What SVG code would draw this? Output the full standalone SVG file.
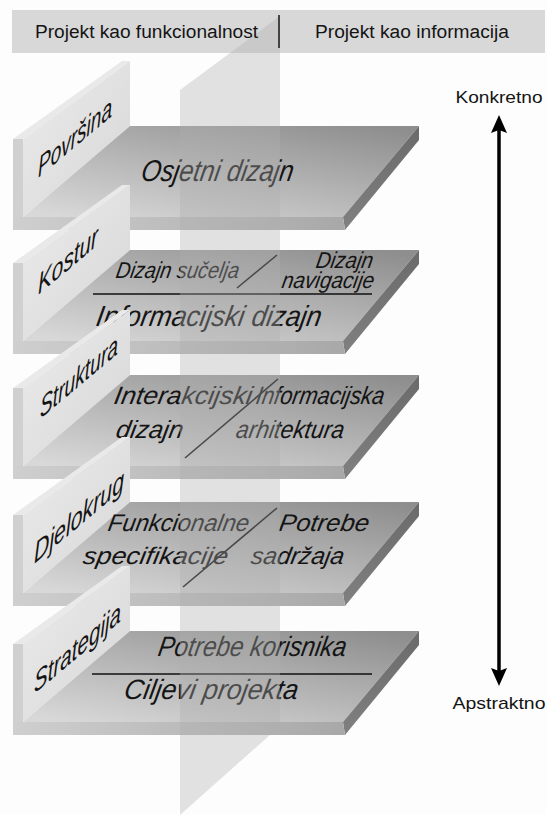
<svg xmlns="http://www.w3.org/2000/svg" xmlns:xlink="http://www.w3.org/1999/xlink" width="547" height="815" viewBox="0 0 547 815">
<style>
  .wall{fill:url(#gWall)}
  .walltop{fill:#e9e9e9}
  .wallstrip{fill:#d0d0d0}
  .top{fill:url(#gTop)}
  .side{fill:url(#gSide)}
  .front{fill:url(#gFront)}
  .t{font-family:"Liberation Sans",Arial,sans-serif;fill:#141414}
  .it{font-style:italic}
  .wl{font-size:29px}
  .rule{stroke:#111;stroke-width:1.6;fill:none}
  .plane{fill:#b0b0b0;opacity:0.36}
</style>
<defs>
  <linearGradient id="gWall" x1="0" y1="0" x2="1" y2="1">
    <stop offset="0" stop-color="#ececec"/>
    <stop offset="1" stop-color="#d6d6d6"/>
  </linearGradient>
  <linearGradient id="gTop" x1="0.1" y1="1" x2="0.9" y2="0">
    <stop offset="0" stop-color="#d8d8d8"/>
    <stop offset="0.5" stop-color="#b4b4b4"/>
    <stop offset="1" stop-color="#8e8e8e"/>
  </linearGradient>
  <linearGradient id="gSide" x1="0" y1="0" x2="0" y2="1">
    <stop offset="0" stop-color="#6a6a6a"/>
    <stop offset="1" stop-color="#808080"/>
  </linearGradient>
  <linearGradient id="gFront" x1="0" y1="0" x2="1" y2="0">
    <stop offset="0" stop-color="#cfcfcf"/>
    <stop offset="1" stop-color="#a8a8a8"/>
  </linearGradient>
  <marker id="ah" viewBox="0 0 18 16" refX="3" refY="8" markerWidth="18" markerHeight="16" markerUnits="userSpaceOnUse" orient="auto-start-reverse">
    <path d="M0,0 L18,8 L0,16 L3,8 Z" fill="#000"/>
  </marker>
  <g id="slab">
    <polygon class="wall" points="23,13 130,-65 130,0 23,91"/>
    <polygon class="walltop" points="13,13 122,-65 130,-65 23,13"/>
    <rect class="wallstrip" x="13" y="13" width="10" height="78"/>
    <polygon class="top" points="130,0 419,0 343,91 23,91"/>
    <polygon class="side" points="419,0 419,14 345,104 343,91"/>
    <polygon class="front" points="13,91 343,91 345,104 13,104"/>
  </g>
</defs>
<rect width="547" height="815" fill="#fdfdfd"/>

<g id="banner">
  <rect x="12" y="10" width="533" height="43" fill="#d8d8d8"/>
</g>

<g id="layer-povrsina">
  <use href="#slab" xlink:href="#slab" y="126"/>
  <text class="t it wl" transform="translate(38,178) skewY(-40)" textLength="74" lengthAdjust="spacingAndGlyphs">Površina</text>
  <text class="t it" font-size="30" transform="translate(140,181) skewX(-10)" textLength="152" lengthAdjust="spacingAndGlyphs">Osjetni dizajn</text>
</g>

<g id="layer-kostur">
  <use href="#slab" xlink:href="#slab" y="250"/>
  <text class="t it wl" transform="translate(38,295) skewY(-40)" textLength="60" lengthAdjust="spacingAndGlyphs">Kostur</text>
  <text class="t it" font-size="23" transform="translate(115,278) skewX(-10)" textLength="123" lengthAdjust="spacingAndGlyphs">Dizajn sučelja</text>
  <text class="t it" font-size="23" transform="translate(315,268) skewX(-10)" textLength="57" lengthAdjust="spacingAndGlyphs">Dizajn</text>
  <text class="t it" font-size="23" transform="translate(281,288) skewX(-10)" textLength="92" lengthAdjust="spacingAndGlyphs">navigacije</text>
  <line class="rule" x1="277" y1="255" x2="237" y2="288"/>
  <line class="rule" x1="93" y1="294" x2="372" y2="294"/>
  <text class="t it" font-size="29" transform="translate(95,326) skewX(-10)" textLength="225" lengthAdjust="spacingAndGlyphs">Informacijski dizajn</text>
</g>

<g id="layer-struktura">
  <use href="#slab" xlink:href="#slab" y="375"/>
  <text class="t it wl" transform="translate(40,419) skewY(-40)" textLength="78" lengthAdjust="spacingAndGlyphs">Struktura</text>
  <line class="rule" x1="278" y1="379" x2="185" y2="458"/>
  <text class="t it" font-size="25" transform="translate(113,404) skewX(-10)" textLength="138" lengthAdjust="spacingAndGlyphs">Interakcijski</text>
  <text class="t it" font-size="25" transform="translate(115,438) skewX(-10)" textLength="67" lengthAdjust="spacingAndGlyphs">dizajn</text>
  <text class="t it" font-size="25" transform="translate(255,404) skewX(-10)" textLength="128" lengthAdjust="spacingAndGlyphs">Informacijska</text>
  <text class="t it" font-size="25" transform="translate(235,438) skewX(-10)" textLength="108" lengthAdjust="spacingAndGlyphs">arhitektura</text>
</g>

<g id="layer-djelokrug">
  <use href="#slab" xlink:href="#slab" y="502"/>
  <text class="t it wl" transform="translate(34,564) skewY(-40)" textLength="90" lengthAdjust="spacingAndGlyphs">Djelokrug</text>
  <line class="rule" x1="277" y1="508" x2="183" y2="587"/>
  <text class="t it" font-size="24" transform="translate(107,531) skewX(-10)" textLength="141" lengthAdjust="spacingAndGlyphs">Funkcionalne</text>
  <text class="t it" font-size="24" transform="translate(82,564) skewX(-10)" textLength="145" lengthAdjust="spacingAndGlyphs">specifikacije</text>
  <text class="t it" font-size="24" transform="translate(278,531) skewX(-10)" textLength="90" lengthAdjust="spacingAndGlyphs">Potrebe</text>
  <text class="t it" font-size="24" transform="translate(250,564) skewX(-10)" textLength="93" lengthAdjust="spacingAndGlyphs">sadržaja</text>
</g>

<g id="layer-strategija">
  <use href="#slab" xlink:href="#slab" y="631"/>
  <text class="t it wl" transform="translate(34,694) skewY(-40)" textLength="87" lengthAdjust="spacingAndGlyphs">Strategija</text>
  <text class="t it" font-size="28" transform="translate(157,656) skewX(-10)" textLength="188" lengthAdjust="spacingAndGlyphs">Potrebe korisnika</text>
  <line class="rule" x1="92" y1="674" x2="372" y2="674"/>
  <text class="t it" font-size="28" transform="translate(123,699) skewX(-10)" textLength="174" lengthAdjust="spacingAndGlyphs">Ciljevi projekta</text>
</g>

<g id="divider-plane">
  <polygon class="plane" points="180,90 280,16 280,726 180,815"/>
</g>

<g id="banner-labels">
  <text class="t" font-size="18" x="35" y="38" textLength="223" lengthAdjust="spacingAndGlyphs">Projekt kao funkcionalnost</text>
  <line x1="279" y1="15" x2="279" y2="48" stroke="#222" stroke-width="1.6"/>
  <text class="t" font-size="18" x="315" y="38" textLength="194" lengthAdjust="spacingAndGlyphs">Projekt kao informacija</text>
</g>

<g id="scale-labels">
  <text class="t" font-size="17" x="499" y="103" text-anchor="middle" textLength="87" lengthAdjust="spacingAndGlyphs">Konkretno</text>
  <text class="t" font-size="17" x="499" y="709" text-anchor="middle" textLength="93" lengthAdjust="spacingAndGlyphs">Apstraktno</text>
</g>

<g id="connectors">
  <line x1="499" y1="130" x2="499" y2="671" stroke="#000" stroke-width="3.5" marker-start="url(#ah)" marker-end="url(#ah)"/>
</g>
</svg>
